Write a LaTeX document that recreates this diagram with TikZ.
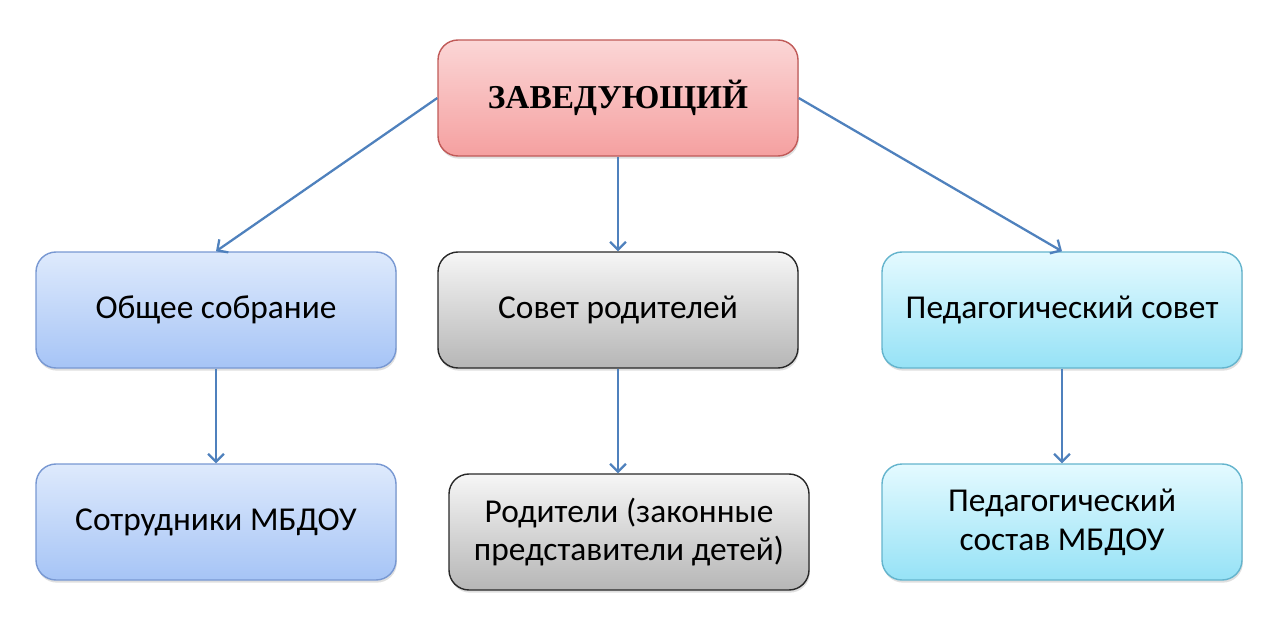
\documentclass[tikz,border=0pt]{standalone}
\usepackage{fontspec}
\setmainfont{Carlito}
\newfontfamily\headfont{Liberation Serif}
\usetikzlibrary{arrows.meta,shadows}

\definecolor{linkblue}{RGB}{79,129,189}
\definecolor{headtop}{RGB}{251,214,214}
\definecolor{headbot}{RGB}{245,160,160}
\definecolor{headline}{RGB}{192,90,88}
\definecolor{bluetop}{RGB}{222,234,252}
\definecolor{bluebot}{RGB}{166,196,246}
\definecolor{blueline}{RGB}{120,152,210}
\definecolor{graytop}{RGB}{246,246,246}
\definecolor{graybot}{RGB}{182,182,182}
\definecolor{grayline}{RGB}{40,40,40}
\definecolor{cyantop}{RGB}{228,250,255}
\definecolor{cyanbot}{RGB}{150,226,246}
\definecolor{cyanline}{RGB}{100,180,205}

\tikzset{
	unit/.style={rounded corners=0.4cm, minimum width=7.2cm, minimum height=2.32cm,
		inner sep=0pt, align=center, line width=0.8pt,
		font=\fontsize{19}{22}\selectfont,
		drop shadow={opacity=0.25,shadow xshift=0.5pt,shadow yshift=-1.5pt}},
	headunit/.style={unit, draw=headline, top color=headtop, bottom color=headbot,
		font=\headfont\bfseries\fontsize{19}{23}\selectfont},
	blueunit/.style={unit, draw=blueline, top color=bluetop, bottom color=bluebot},
	grayunit/.style={unit, draw=grayline, top color=graytop, bottom color=graybot},
	cyanunit/.style={unit, draw=cyanline, top color=cyantop, bottom color=cyanbot},
	link/.style={->, line width=1.3pt, linkblue}
}

\begin{document}
\begin{tikzpicture}[>={Straight Barb[length=4.5pt,width=9pt]}]

	% Fix the canvas to the reference size
	\useasboundingbox (0,0) rectangle (25.6,12.66);

	% Head of the structure
	\node[headunit] (head) at (12.36,10.70) {ЗАВЕДУЮЩИЙ};

	% Councils
	\node[blueunit] (meeting) at (4.32,6.46) {Общее собрание};
	\node[grayunit] (parentsboard) at (12.36,6.46) {Совет родителей};
	\node[cyanunit] (teachboard) at (21.24,6.46) {Педагогический совет};

	% Members of the councils
	\node[blueunit] (staff) at (4.32,2.22) {Сотрудники МБДОУ};
	\node[grayunit] (parents) at (12.58,2.02) {Родители (законные\\представители детей)};
	\node[cyanunit] (teachers) at (21.24,2.22) {Педагогический\\состав МБДОУ};

	% Links from the head
	\draw[link] (head.west) -- (meeting.north);
	\draw[link] (head.south) -- (parentsboard.north);
	\draw[link] (head.east) -- (teachboard.north);

	% Links down to the members
	\draw[link] (meeting.south) -- (staff.north);
	\draw[link] (parentsboard.south) -- (parentsboard.south |- parents.north);
	\draw[link] (teachboard.south) -- (teachers.north);

\end{tikzpicture}
\end{document}
